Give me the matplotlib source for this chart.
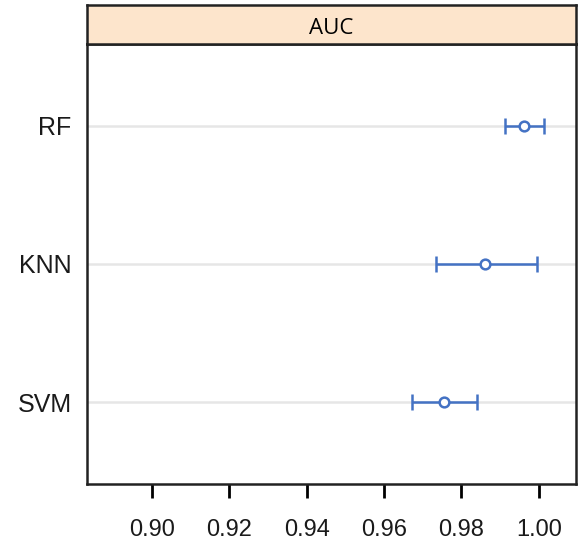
import matplotlib
matplotlib.use('Agg')
import matplotlib.pyplot as plt

# Modelos e estatisticas de AUC (limite inferior, media, limite superior)
modelos = ['SVM', 'KNN', 'RF']
auc_media = [0.9755, 0.9862, 0.9961]
auc_inf = [0.9672, 0.9734, 0.9912]
auc_sup = [0.9840, 0.9994, 1.0013]
ticks_x = [0.90, 0.92, 0.94, 0.96, 0.98, 1.00]

plt.rcParams['font.family'] = ['Liberation Sans', 'DejaVu Sans']

azul = '#4472c4'
fig = plt.figure(figsize=(5.84, 5.4), dpi=100)

ax = fig.add_axes([87 / 584, 56 / 540, 489 / 584, 440 / 540])
pos = list(range(1, len(modelos) + 1))

for p in pos:
    ax.axhline(p, color='#e6e6e6', lw=1.8, zorder=0)

erro = [[m - i for m, i in zip(auc_media, auc_inf)],
        [s - m for m, s in zip(auc_media, auc_sup)]]
ax.errorbar(auc_media, pos, xerr=erro, fmt='o', color=azul, mfc='white',
            mec=azul, ms=7, mew=1.8, elinewidth=1.8, capsize=5.5, capthick=1.8)

ax.set_xlim(0.8832, 1.0096)
ax.set_ylim(0.406, 3.594)
ax.set_xticks(ticks_x)
ax.set_xticklabels(['%.2f' % t for t in ticks_x], fontsize=17, color='#1a1a1a')
ax.set_yticks(pos)
ax.set_yticklabels(modelos, fontsize=18, color='#1a1a1a')
ax.tick_params(axis='x', length=10, width=2, pad=15)
ax.tick_params(axis='y', length=0, pad=11)
for s in ax.spines.values():
    s.set_linewidth(1.8)
    s.set_color('#222222')

# Faixa do titulo (strip)
strip = fig.add_axes([87 / 584, 496 / 540, 489 / 584, 39 / 540])
strip.set_facecolor('#fde5cc')
strip.set_xticks([])
strip.set_yticks([])
for s in strip.spines.values():
    s.set_linewidth(1.8)
    s.set_color('#222222')
strip.text(0.5, 0.40, 'AUC', ha='center', va='center', fontsize=16,
           family=['Open Sans', 'DejaVu Sans'], transform=strip.transAxes)

fig.savefig('out.png', dpi=100)
